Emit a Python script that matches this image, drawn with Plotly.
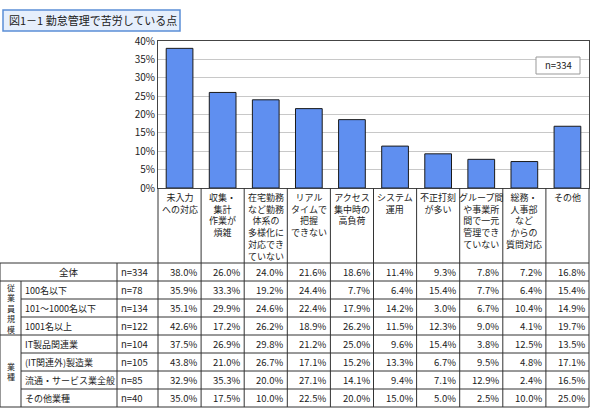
import plotly.graph_objects as go

W, H = 590, 419

categories = ["未入力<br>への対応", "収集・<br>集計<br>作業が<br>煩雑",
              "在宅勤務<br>など勤務<br>体系の<br>多様化に<br>対応でき<br>ていない",
              "リアル<br>タイムで<br>把握<br>できない", "アクセス<br>集中時の<br>高負荷",
              "システム<br>運用", "不正打刻<br>が多い",
              "グループ間<br>や事業所<br>間で一元<br>管理でき<br>ていない",
              "総務・<br>人事部<br>など<br>からの<br>質問対応", "その他"]

row_names = ["全体", "100名以下", "101～1000名以下", "1001名以上",
             "IT製品関連業", "(IT関連外)製造業", "流通・サービス業全般", "その他業種"]
row_n = ["n=334", "n=78", "n=134", "n=122", "n=104", "n=105", "n=85", "n=40"]
total = [38.0, 26.0, 24.0, 21.6, 18.6, 11.4, 9.3, 7.8, 7.2, 16.8]
size_100 = [35.9, 33.3, 19.2, 24.4, 7.7, 6.4, 15.4, 7.7, 6.4, 15.4]
size_1000 = [35.1, 29.9, 24.6, 22.4, 17.9, 14.2, 3.0, 6.7, 10.4, 14.9]
size_1001 = [42.6, 17.2, 26.2, 18.9, 26.2, 11.5, 12.3, 9.0, 4.1, 19.7]
ind_it = [37.5, 26.9, 29.8, 21.2, 25.0, 9.6, 15.4, 3.8, 12.5, 13.5]
ind_mfg = [43.8, 21.0, 26.7, 17.1, 15.2, 13.3, 6.7, 9.5, 4.8, 17.1]
ind_dist = [32.9, 35.3, 20.0, 27.1, 14.1, 9.4, 7.1, 12.9, 2.4, 16.5]
ind_other = [35.0, 17.5, 10.0, 22.5, 20.0, 15.0, 5.0, 2.5, 10.0, 25.0]
rows = [total, size_100, size_1000, size_1001, ind_it, ind_mfg, ind_dist, ind_other]


def px(x):
    return x / W


def py(y):
    return 1 - y / H


def note(x, y, text, xa="center", ya="middle", size=9.5):
    return dict(x=px(x), y=py(y), xref="paper", yref="paper", text=text, showarrow=False,
                xanchor=xa, yanchor=ya, font=dict(size=size))


FONT = "Noto Sans CJK JP"
x0, x1 = 158, 589
y_top, y_zero = 41, 188
t_top, rh = 263, 18
cw = (x1 - x0) / 10
FS = 9.5

fig = go.Figure(go.Bar(
    x=list(range(10)), y=total, width=0.62,
    marker=dict(color="#5f8ff0", line=dict(color="#1a1a1a", width=1)),
))

fig.update_layout(
    width=W, height=H, margin=dict(l=0, r=0, t=0, b=0, pad=0, autoexpand=False),
    paper_bgcolor="white", plot_bgcolor="white", showlegend=False,
    font=dict(family=FONT, size=FS, color="#222"),
    xaxis=dict(domain=[px(x0), px(x1)], range=[-0.5, 9.5], showticklabels=False,
               automargin=False, showgrid=False, showline=True, linecolor="#444", mirror=True),
    yaxis=dict(domain=[py(y_zero), py(y_top)], range=[0, 40], dtick=5, ticksuffix="%",
               automargin=False, showgrid=True, gridcolor="#c8c8c8", showline=True,
               linecolor="#444", mirror=True, ticks="", tickfont=dict(size=10)),
)

shapes = []
ann = []

# title box
shapes.append(dict(type="rect", xref="paper", yref="paper", x0=px(3), x1=px(180),
                   y0=py(31), y1=py(10), fillcolor="#e6effc",
                   line=dict(color="#5b8fd6", width=1.5)))
ann.append(note(7, 20.5, "図1－1 勤怠管理で苦労している点", xa="left", size=11))
# n box
shapes.append(dict(type="rect", xref="paper", yref="paper", x0=px(536), x1=px(580),
                   y0=py(74), y1=py(57), fillcolor="white", line=dict(color="#999", width=1)))
ann.append(note(558, 65.5, "n=334"))

line = dict(color="#333", width=1)
# header column lines
for i in range(11):
    x = x0 + cw * i
    shapes.append(dict(type="line", xref="paper", yref="paper", x0=px(x), x1=px(x),
                       y0=py(y_zero), y1=py(t_top + 8 * rh), line=line))
for i, c in enumerate(categories):
    ann.append(note(x0 + cw * (i + 0.5), y_zero + 1, c, ya="top", size=9))

# table horizontal lines
for i in range(9):
    y = t_top + rh * i
    xs = 0 if i in (0, 1, 4, 8) else 21
    shapes.append(dict(type="line", xref="paper", yref="paper", x0=px(xs), x1=px(x1),
                       y0=py(y), y1=py(y), line=line))
for x, ya in [(0, t_top), (21, t_top + rh), (117, t_top)]:
    shapes.append(dict(type="line", xref="paper", yref="paper", x0=px(x), x1=px(x),
                       y0=py(ya), y1=py(t_top + 8 * rh), line=line))

ann.append(note(10.5, t_top + rh * 2.5, "従<br>業<br>員<br>規<br>模", size=8))
ann.append(note(10.5, t_top + rh * 6, "業<br>種", size=8))

for r, (name, n, vals) in enumerate(zip(row_names, row_n, rows)):
    yc = t_top + rh * (r + 0.5)
    if r == 0:
        ann.append(note(69, yc, name))
    else:
        ann.append(note(23, yc, name, xa="left", size=9))
    ann.append(note(119, yc, n, xa="left"))
    for i, v in enumerate(vals):
        ann.append(note(x0 + cw * (i + 1) - 2, yc, f"{v:.1f}%", xa="right"))

fig.update_layout(shapes=shapes, annotations=ann)
fig.write_html("out.html", config={"displayModeBar": False},
               post_script="document.body.style.margin='0';")
